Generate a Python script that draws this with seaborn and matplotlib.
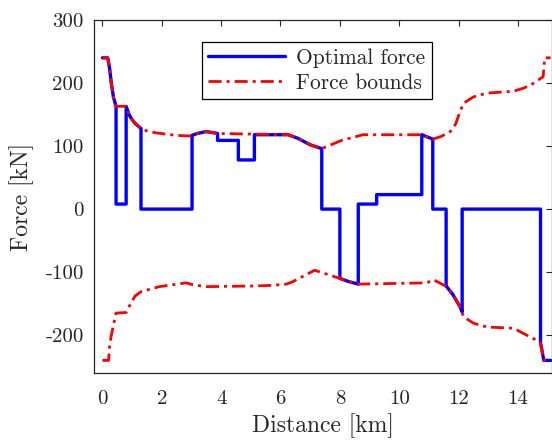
import matplotlib
matplotlib.use("Agg")
import matplotlib.pyplot as plt
import seaborn as sns
import pandas as pd

# optimal force profile (step-like, follows bounds on some stretches)
force_km = [0.0, 0.18, 0.24, 0.30, 0.37, 0.46, 0.46, 0.80, 0.80, 0.90, 0.97, 1.10, 1.30,
            1.30, 3.02, 3.02, 3.20, 3.50, 3.88, 3.88, 4.58, 4.58, 5.12, 5.12, 6.26, 6.60,
            7.00, 7.39, 7.39, 8.00, 8.00, 8.30, 8.62, 8.62, 9.24, 9.24, 10.76, 10.76, 11.13,
            11.13, 11.58, 11.58, 11.80, 12.05, 12.12, 12.12, 14.76, 14.76, 14.87, 15.10]
force_kn = [240, 240, 224, 200, 178, 163, 8, 8, 163, 150, 144, 136, 128,
            0, 0, 117, 120, 123, 120, 109, 109, 78, 78, 118, 118, 112,
            102, 96, 0, 0, -110, -115, -119, 8, 8, 23, 23, 118, 111,
            0, 0, -122, -135, -155, -163, 0, 0, -211, -240, -240]

# upper force bound
upper_km = [0.0, 0.18, 0.24, 0.30, 0.37, 0.44, 0.80, 0.90, 0.97, 1.10, 1.30, 1.50, 1.80,
            2.47, 2.95, 3.20, 3.50, 3.90, 5.00, 6.26, 6.60, 7.00, 7.39, 8.06, 8.78, 10.76,
            11.13, 11.40, 11.72, 11.90, 12.05, 12.17, 12.50, 12.95, 13.85, 14.20, 14.50,
            14.85, 14.90, 15.10]
upper_kn = [240, 240, 224, 200, 178, 163, 163, 150, 144, 136, 128, 124, 121,
            117, 116, 120, 123, 120, 119, 118, 112, 102, 96, 109, 118, 118,
            111, 115, 123, 135, 155, 168, 178, 184, 187, 192, 199,
            210, 240, 240]

# lower force bound
lower_km = [0.0, 0.21, 0.23, 0.30, 0.40, 0.46, 0.80, 0.95, 1.10, 1.30, 1.92, 2.82, 3.05,
            3.50, 5.07, 5.70, 6.20, 6.42, 7.15, 8.00, 8.30, 8.62, 10.93, 11.15, 11.60,
            11.80, 12.05, 12.17, 12.50, 12.95, 13.85, 14.42, 14.75, 14.87, 15.10]
lower_kn = [-240, -240, -222, -200, -178, -165, -164, -150, -138, -131, -123, -117, -120,
            -123, -122, -121, -119, -115, -97, -110, -115, -119, -117, -112, -123,
            -135, -155, -171, -181, -187, -189, -203, -211, -240, -240]

sns.set_style("white")
plt.rcParams["font.family"] = ["cmr10", "DejaVu Serif"]
plt.rcParams["axes.unicode_minus"] = False
plt.rcParams["mathtext.fontset"] = "cm"

dark = "#262626"
bound_dashes = (4.7, 1.8, 1.1, 1.8)

fig = plt.figure(figsize=(5.52, 4.4), dpi=100)
ax = fig.add_axes([93.5 / 552, 67 / 440, (551.5 - 93.5) / 552, 353 / 440])

df_force = pd.DataFrame({"km": force_km, "kn": force_kn})
df_up = pd.DataFrame({"km": upper_km, "kn": upper_kn})
df_lo = pd.DataFrame({"km": lower_km, "kn": lower_kn})

sns.lineplot(data=df_force, x="km", y="kn", sort=False, estimator=None, ax=ax,
             color=(0, 0, 1), linewidth=2.4, label="Optimal force")
sns.lineplot(data=df_up, x="km", y="kn", sort=False, estimator=None, ax=ax,
             color=(1, 0, 0), linewidth=2.0, label="Force bounds")
sns.lineplot(data=df_lo, x="km", y="kn", sort=False, estimator=None, ax=ax,
             color=(1, 0, 0), linewidth=2.0, label="_nolegend_")
for ln in ax.lines[1:]:
    ln.set_dashes(bound_dashes)

ax.set_xlim(-0.3, 15.13)
ax.set_ylim(-260, 300)
ax.set_xticks(range(0, 15, 2))
ax.set_yticks(range(-200, 301, 100))

ax.tick_params(direction="in", length=4, width=0.8, colors=dark, labelsize=15,
               top=True, right=True, labelcolor=dark)
ax.tick_params(axis="x", pad=12)
ax.tick_params(axis="y", pad=7)
for sp in ax.spines.values():
    sp.set_color(dark)
    sp.set_linewidth(0.9)

ax.set_xlabel("Distance [km]", fontsize=17, color=dark, labelpad=4)
ax.set_ylabel("Force [kN]", fontsize=17, color=dark, labelpad=8)

leg = ax.legend(loc="upper left", bbox_to_anchor=(202 / 552, 1 - 42 / 440),
                bbox_transform=fig.transFigure, borderaxespad=0, fontsize=15.4,
                handlelength=3.6, handletextpad=0.5, frameon=True, fancybox=False,
                edgecolor="black", framealpha=1, borderpad=0.3, labelspacing=0.25)
leg.get_frame().set_linewidth(0.9)
for ln in leg.get_lines()[1:]:
    ln.set_dashes(bound_dashes)

fig.savefig("out.png", dpi=100)
